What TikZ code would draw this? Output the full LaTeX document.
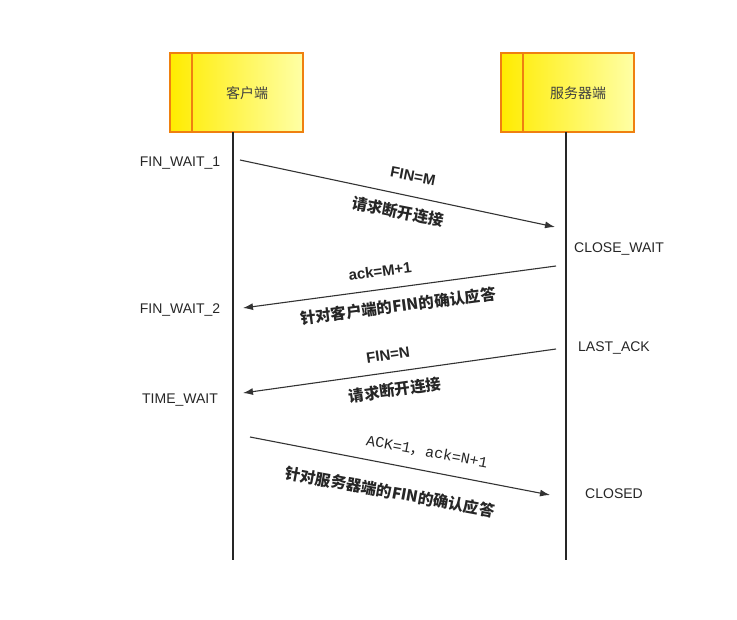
\documentclass[tikz,border=0pt]{standalone}
\usepackage{fontspec}
\setmainfont{Liberation Sans}
\newfontfamily\cjk{Noto Sans CJK SC}
\newfontfamily\monof{Liberation Mono}
\usetikzlibrary{arrows.meta}
\begin{document}
\begin{tikzpicture}[x=1pt,y=-1pt,
  actor/.style={draw=orange!75!brown,line width=1.4pt,left color=yellow!85!orange,right color=yellow!35},
  life/.style={line width=1.2pt,black!85},
  msg/.style={line width=1.1pt,black!80,-{Latex[length=10pt,width=7pt]}},
  st/.style={font=\fontsize{14}{16}\selectfont,text=black!85},
  lab/.style={font=\fontsize{15}{17}\selectfont\bfseries,text=black!85},
  clab/.style={font=\cjk\fontsize{15.5}{17}\selectfont\bfseries,text=black!85}]
\useasboundingbox (0,0) rectangle (737,620);
\fill[white] (0,0) rectangle (737,620);
% actors
\draw[actor] (170,53) rectangle (303,132);
\draw[orange!75!brown,line width=1.4pt] (192,53) -- (192,132);
\node[font=\cjk\fontsize{14}{16}\selectfont,text=black!75] (c) at (247,93) {客户端};
\draw[actor] (501,53) rectangle (634,132);
\draw[orange!75!brown,line width=1.4pt] (523,53) -- (523,132);
\node[font=\cjk\fontsize{14}{16}\selectfont,text=black!75] (s) at (578,93) {服务器端};
\coordinate (ct) at (233,132); \coordinate (cb) at (233,560);
\coordinate (stp) at (566,132); \coordinate (sb) at (566,560);
\draw[life] (ct) -- (cb);
\draw[life] (stp) -- (sb);
% states
\node[st] (f1) at (180,163) {FIN\_WAIT\_1};
\node[st] (cw) at (619,249) {CLOSE\_WAIT};
\node[st] (f2) at (180,310) {FIN\_WAIT\_2};
\node[st] (la) at (614,348) {LAST\_ACK};
\node[st] (tw) at (180,400) {TIME\_WAIT};
\node[st] (cl) at (614,494) {CLOSED};
% messages
\coordinate (a1s) at (240,160); \coordinate (a1e) at (555,227);
\draw[msg] (a1s) -- (a1e);
\node[lab,rotate=-11] at (413,176) {FIN=M};
\node[clab,rotate=-11] at (398,212) {请求断开连接};
\coordinate (a2s) at (556,266); \coordinate (a2e) at (243,308);
\draw[msg] (a2s) -- (a2e);
\node[lab,rotate=7.5] at (380,271) {ack=M+1};
\node[clab,rotate=7.5] at (398,306) {针对客户端的FIN的确认应答};
\coordinate (a3s) at (556,349); \coordinate (a3e) at (243,393);
\draw[msg] (a3s) -- (a3e);
\node[lab,rotate=8] at (388,355) {FIN=N};
\node[clab,rotate=8] at (395,390) {请求断开连接};
\coordinate (a4s) at (250,437); \coordinate (a4e) at (550,495);
\draw[msg] (a4s) -- (a4e);
\node[font=\monof\fontsize{15}{17}\selectfont,text=black!85,rotate=-10.5] at (427,452) {ACK=1{\cjk ，}ack=N+1};
\node[clab,rotate=-10.5] at (390,492) {针对服务器端的FIN的确认应答};
\end{tikzpicture}
\end{document}
